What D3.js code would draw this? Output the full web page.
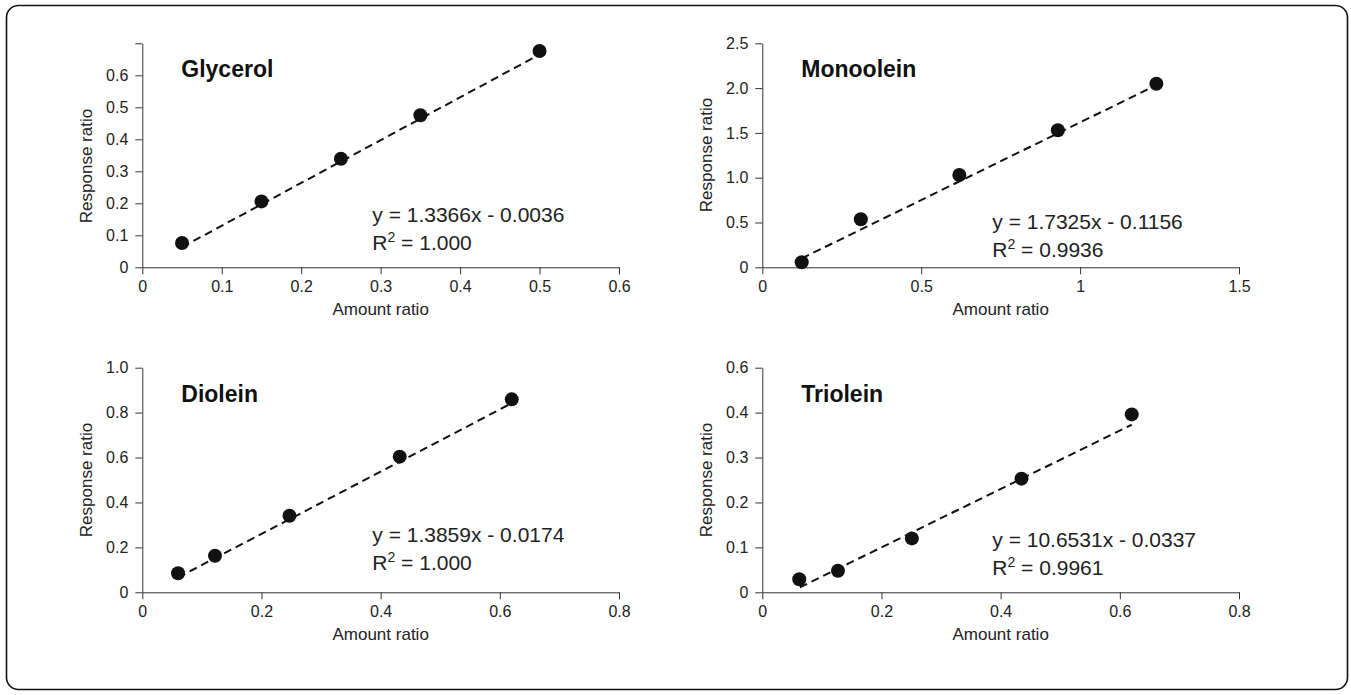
<!DOCTYPE html>
<html>
<head>
<meta charset="utf-8">
<script src="https://cdn.jsdelivr.net/npm/d3@7"></script>
<style>
  body { margin: 0; background: #fff; }
  svg { font-family: "Liberation Sans", Arial, sans-serif; }
</style>
</head>
<body>
<script>
'use strict';

// dados
const nomes = ["Glycerol", "Monoolein", "Diolein", "Triolein"]

const glycerolX = [0.05, 0.15, 0.25, 0.35, 0.5]
const glycerolY = [0.076, 0.206, 0.339, 0.475, 0.676]
const monooleinX = [0.124, 0.31, 0.62, 0.93, 1.24]
const monooleinY = [0.056, 0.537, 1.030, 1.530, 2.048]
const dioleinX = [0.06, 0.122, 0.247, 0.432, 0.62]
const dioleinY = [0.085, 0.163, 0.341, 0.604, 0.859]
const trioleinX = [0.062, 0.127, 0.251, 0.435, 0.62]
const trioleinY = [0.029, 0.048, 0.120, 0.253, 0.396]

// extremos das retas de ajuste
const glycerolAjusteX = [0.05, 0.5]
const glycerolAjusteY = [0.063, 0.665]
const monooleinAjusteX = [0.124, 1.24]
const monooleinAjusteY = [0.099, 2.033]
const dioleinAjusteX = [0.06, 0.62]
const dioleinAjusteY = [0.066, 0.842]
const trioleinAjusteX = [0.063, 0.62]
const trioleinAjusteY = [0.011, 0.373]

const equacoes = ["y = 1.3366x - 0.0036", "y = 1.7325x - 0.1156", "y = 1.3859x - 0.0174", "y = 10.6531x - 0.0337"]
const r2 = ["1.000", "0.9936", "1.000", "0.9961"]

const glycerolTicksX = [0, 0.1, 0.2, 0.3, 0.4, 0.5, 0.6]
const glycerolRotulosX = ["0", "0.1", "0.2", "0.3", "0.4", "0.5", "0.6"]
const glycerolTicksY = [0, 0.1, 0.2, 0.3, 0.4, 0.5, 0.6, 0.7]
const glycerolRotulosY = ["0", "0.1", "0.2", "0.3", "0.4", "0.5", "0.6", ""]
const monooleinTicksX = [0, 0.5, 1, 1.5]
const monooleinRotulosX = ["0", "0.5", "1", "1.5"]
const monooleinTicksY = [0, 0.5, 1, 1.5, 2, 2.5]
const monooleinRotulosY = ["0", "0.5", "1.0", "1.5", "2.0", "2.5"]
const dioleinTicksX = [0, 0.2, 0.4, 0.6, 0.8]
const dioleinRotulosX = ["0", "0.2", "0.4", "0.6", "0.8"]
const dioleinTicksY = [0, 0.2, 0.4, 0.6, 0.8, 1.0]
const dioleinRotulosY = ["0", "0.2", "0.4", "0.6", "0.8", "1.0"]
const trioleinTicksX = [0, 0.2, 0.4, 0.6, 0.8]
const trioleinRotulosX = ["0", "0.2", "0.4", "0.6", "0.8"]
const trioleinTicksY = [0, 0.1, 0.2, 0.3, 0.4, 0.5]
const trioleinRotulosY = ["0", "0.1", "0.2", "0.3", "0.4", "0.6"]

const largura = 1351
const altura = 695

const svg = d3.select('body').append('svg')
    .attr('width', largura)
    .attr('height', altura)

svg.append('rect')
    .attr('x', 6.5).attr('y', 5.5)
    .attr('width', 1341).attr('height', 684)
    .attr('rx', 12).attr('ry', 12)
    .attr('fill', 'none')
    .attr('stroke', '#111')
    .attr('stroke-width', 1.6)

class Painel {
    constructor(cfg) {
        this.cfg = cfg
        this.g = svg.append('g')
        this.escalas()
        this.eixos()
        this.preenche()
        this.textos()
    }

    escalas() {
        const c = this.cfg
        this.x = d3.scaleLinear().domain([0, d3.max(c.ticksX)]).range([c.esq, c.dir])
        this.y = d3.scaleLinear().domain([0, d3.max(c.ticksY)]).range([c.base, c.topo])
    }

    eixos() {
        const c = this.cfg
        const eixoX = d3.axisBottom(this.x)
            .tickValues(c.ticksX)
            .tickFormat((d, i) => c.rotulosX[i])
            .tickSizeInner(7).tickSizeOuter(0).tickPadding(6)
        const eixoY = d3.axisLeft(this.y)
            .tickValues(c.ticksY)
            .tickFormat((d, i) => c.rotulosY[i])
            .tickSizeInner(7).tickSizeOuter(0).tickPadding(7)

        const gx = this.g.append('g')
            .attr('transform', `translate(0, ${c.base})`)
            .call(eixoX)
        const gy = this.g.append('g')
            .attr('transform', `translate(${c.esq}, 0)`)
            .call(eixoY)

        for (let ge of [gx, gy]) {
            ge.select('.domain').attr('stroke', '#333')
            ge.selectAll('.tick line').attr('stroke', '#333')
            ge.selectAll('.tick text')
                .attr('fill', '#222')
                .style('font-size', '16px')
                .style('font-family', '"Liberation Sans", Arial, sans-serif')
        }

        this.g.append('text')
            .attr('x', (c.esq + c.dir) / 2)
            .attr('y', c.base + 48)
            .attr('text-anchor', 'middle')
            .attr('fill', '#222')
            .style('font-size', '17px')
            .text('Amount ratio')

        this.g.append('text')
            .attr('transform', `translate(${c.esq - 50}, ${c.meioY}) rotate(-90)`)
            .attr('text-anchor', 'middle')
            .attr('fill', '#222')
            .style('font-size', '17px')
            .text('Response ratio')
    }

    preenche() {
        const c = this.cfg
        const ajuste = c.ajusteX.map((v, i) => [v, c.ajusteY[i]])
        this.g.append('path')
            .datum(ajuste)
            .attr('d', d3.line().x(d => this.x(d[0])).y(d => this.y(d[1])))
            .attr('fill', 'none')
            .attr('stroke', '#111')
            .attr('stroke-width', 2)
            .attr('stroke-dasharray', '8,5')

        const pontos = c.dadosX.map((v, i) => ({x: v, y: c.dadosY[i]}))
        this.g.selectAll('circle').data(pontos).enter().append('circle')
            .attr('cx', d => this.x(d.x))
            .attr('cy', d => this.y(d.y))
            .attr('r', 7)
            .attr('fill', '#111')
    }

    textos() {
        const c = this.cfg
        this.g.append('text')
            .attr('x', c.esq + 39)
            .attr('y', c.topo + 34)
            .attr('fill', '#111')
            .style('font-size', '23px')
            .style('font-weight', 'bold')
            .text(c.nome)

        this.g.append('text')
            .attr('x', c.esq + c.eqDx)
            .attr('y', c.base - c.eqDy)
            .attr('fill', '#222')
            .style('font-size', '21px')
            .text(c.equacao)

        const t = this.g.append('text')
            .attr('x', c.esq + c.eqDx)
            .attr('y', c.base - c.eqDy + 28)
            .attr('fill', '#222')
            .style('font-size', '21px')
        t.append('tspan').text('R')
        t.append('tspan').attr('dy', -8).style('font-size', '14px').text('2')
        t.append('tspan').attr('dy', 8).text(' = ' + c.r2)
    }
}

new Painel({nome: nomes[0], esq: 142.3, dir: 619, topo: 43.3, base: 267.3, meioY: 166,
    dadosX: glycerolX, dadosY: glycerolY, ajusteX: glycerolAjusteX, ajusteY: glycerolAjusteY,
    ticksX: glycerolTicksX, rotulosX: glycerolRotulosX, ticksY: glycerolTicksY, rotulosY: glycerolRotulosY,
    equacao: equacoes[0], r2: r2[0], eqDx: 230, eqDy: 45})
new Painel({nome: nomes[1], esq: 762.3, dir: 1239, topo: 43.3, base: 267.3, meioY: 155,
    dadosX: monooleinX, dadosY: monooleinY, ajusteX: monooleinAjusteX, ajusteY: monooleinAjusteY,
    ticksX: monooleinTicksX, rotulosX: monooleinRotulosX, ticksY: monooleinTicksY, rotulosY: monooleinRotulosY,
    equacao: equacoes[1], r2: r2[1], eqDx: 230, eqDy: 38})
new Painel({nome: nomes[2], esq: 142.3, dir: 619, topo: 367.7, base: 592.3, meioY: 480,
    dadosX: dioleinX, dadosY: dioleinY, ajusteX: dioleinAjusteX, ajusteY: dioleinAjusteY,
    ticksX: dioleinTicksX, rotulosX: dioleinRotulosX, ticksY: dioleinTicksY, rotulosY: dioleinRotulosY,
    equacao: equacoes[2], r2: r2[2], eqDx: 230, eqDy: 50})
new Painel({nome: nomes[3], esq: 762.3, dir: 1239, topo: 367.7, base: 592.3, meioY: 480,
    dadosX: trioleinX, dadosY: trioleinY, ajusteX: trioleinAjusteX, ajusteY: trioleinAjusteY,
    ticksX: trioleinTicksX, rotulosX: trioleinRotulosX, ticksY: trioleinTicksY, rotulosY: trioleinRotulosY,
    equacao: equacoes[3], r2: r2[3], eqDx: 230, eqDy: 45})
</script>
</body>
</html>
